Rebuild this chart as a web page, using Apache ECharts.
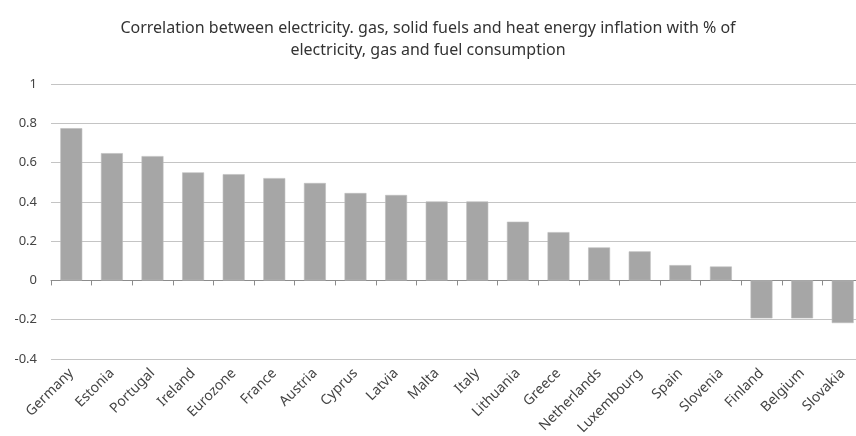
<!DOCTYPE html>
<html>
<head>
<meta charset="utf-8">
<script src="https://cdn.jsdelivr.net/npm/echarts@6/dist/echarts.min.js"></script>
<style>
  html, body { margin: 0; padding: 0; background: #fff; }
  #chart { width: 856px; height: 436px; }
</style>
</head>
<body>
<div id="chart"></div>
<script>
// Countries, ordered by correlation
const countries = ['Germany', 'Estonia', 'Portugal', 'Ireland', 'Eurozone', 'France', 'Austria',
  'Cyprus', 'Latvia', 'Malta', 'Italy', 'Lithuania', 'Greece', 'Netherlands', 'Luxembourg',
  'Spain', 'Slovenia', 'Finland', 'Belgium', 'Slovakia'];

// Correlation coefficient for each country
const correlation = [0.775, 0.648, 0.633, 0.55, 0.541, 0.521, 0.496, 0.445, 0.435, 0.402,
  0.402, 0.299, 0.246, 0.168, 0.148, 0.078, 0.071, -0.193, -0.193, -0.217];

// Value axis range
const yMin = -0.4;
const yMax = 1;
const yStep = 0.2;

const titleText = 'Correlation between electricity. gas, solid fuels and heat energy inflation with % of\nelectricity, gas and fuel consumption';

const font = "'Noto Sans', 'DejaVu Sans', sans-serif";

const chart = echarts.init(document.getElementById('chart'), null, { renderer: 'canvas' });

chart.setOption({
  animation: false,
  backgroundColor: '#ffffff',
  title: {
    text: titleText,
    left: 'center',
    top: 12,
    textStyle: {
      fontFamily: font,
      fontSize: 16,
      fontWeight: 'normal',
      color: '#333333',
      lineHeight: 22
    }
  },
  grid: {
    left: 51,
    right: -7,
    top: 84,
    bottom: 77,
    containLabel: false,
    outerBoundsMode: 'none'
  },
  xAxis: [
    {
      // Axis line and a tick between every pair of bars, at zero
      type: 'category',
      data: countries,
      axisLine: { show: true, onZero: true, lineStyle: { color: '#8c8c8c', width: 1 } },
      axisTick: {
        show: true,
        interval: () => true,
        length: 5,
        alignWithLabel: false,
        lineStyle: { color: '#8c8c8c', width: 1 }
      },
      axisLabel: { show: false, interval: () => true },
      splitLine: { show: false }
    },
    {
      // Category names along the bottom edge
      type: 'category',
      data: countries,
      position: 'bottom',
      axisLine: { show: false, onZero: false },
      axisTick: { show: false },
      axisLabel: {
        show: true,
        rotate: 45,
        interval: 0,
        margin: 12,
        fontFamily: font,
        fontSize: 14,
        color: '#444444'
      },
      splitLine: { show: false }
    }
  ],
  yAxis: {
    type: 'value',
    min: yMin,
    max: yMax,
    interval: yStep,
    axisLine: { show: false },
    axisTick: { show: false },
    axisLabel: {
      fontFamily: font,
      fontSize: 13,
      color: '#444444',
      margin: 14,
      formatter: v => String(Math.round(v * 10) / 10)
    },
    splitLine: { show: true, lineStyle: { color: '#c4c4c4', width: 1 } }
  },
  series: [
    {
      type: 'bar',
      xAxisIndex: 0,
      data: correlation,
      barCategoryGap: '46%',
      itemStyle: { color: '#a6a6a6', borderColor: '#bdbdbd', borderWidth: 0.6 },
      z: 2
    }
  ]
});
</script>
</body>
</html>
